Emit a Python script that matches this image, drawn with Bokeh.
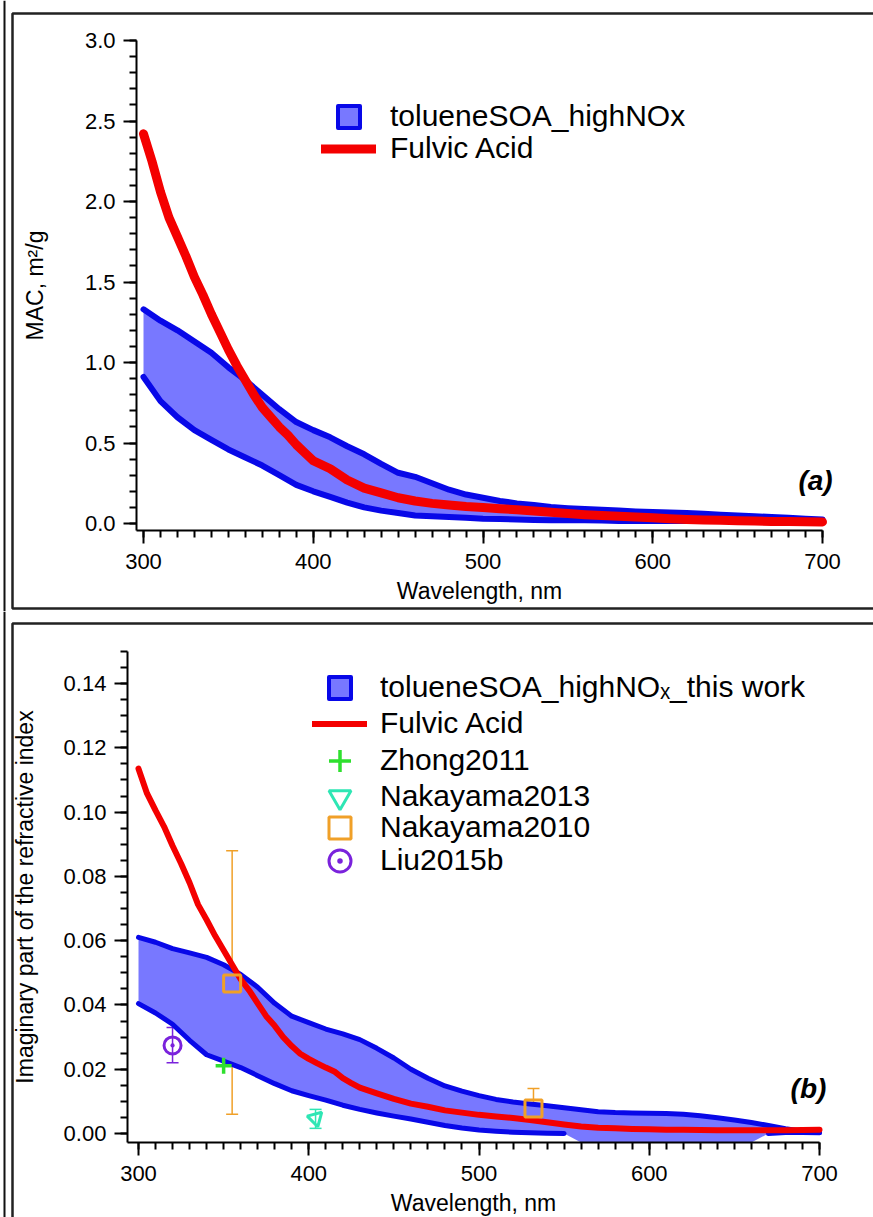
import numpy as np
from bokeh.plotting import figure
from bokeh.models import (ColumnDataSource, FixedTicker, PrintfTickFormatter, Legend,
                          LegendItem, Label, BoxAnnotation, Whisker, TeeHead, Range1d, Span)
from bokeh.layouts import column
from bokeh.embed import file_html
from bokeh.resources import INLINE

FONT = "Liberation Sans"
BLUE = "#0808e8"
FILL = "#7878ff"
RED = "#f40000"
GREEN = "#2ee02e"
TEAL = "#2ee6b4"
ORANGE = "#f0a028"
PURPLE = "#7a22dc"

# ---------------- panel (a): MAC, m2/g
wl_band_a = list(range(300, 701, 10))
mac_upper = [1.33, 1.26, 1.20, 1.13, 1.06, 0.97, 0.89, 0.80, 0.71, 0.63,
             0.58, 0.535, 0.48, 0.43, 0.37, 0.315, 0.29, 0.25, 0.21, 0.18,
             0.16, 0.14, 0.125, 0.115, 0.102, 0.095, 0.09, 0.085, 0.08, 0.075,
             0.072, 0.068, 0.065, 0.06, 0.055, 0.05, 0.045, 0.04, 0.035, 0.03,
             0.025]
mac_lower = [0.91, 0.76, 0.66, 0.58, 0.52, 0.46, 0.41, 0.36, 0.30, 0.24,
             0.20, 0.165, 0.13, 0.10, 0.08, 0.065, 0.05, 0.045, 0.04, 0.035,
             0.03, 0.028, 0.025, 0.022, 0.02, 0.02, 0.02, 0.018, 0.015, 0.015,
             0.015, 0.015, 0.015, 0.015, 0.015, 0.015, 0.015, 0.015, 0.015, 0.015,
             0.015]
wl_fa_a = list(range(300, 400, 5)) + list(range(400, 701, 10))
mac_fa = [2.42, 2.25, 2.06, 1.90, 1.78, 1.66, 1.53, 1.42, 1.30, 1.19,
          1.08, 0.98, 0.89, 0.80, 0.72, 0.66, 0.60, 0.55, 0.49, 0.44,
          0.39, 0.34, 0.27, 0.22, 0.19, 0.16, 0.14, 0.125, 0.115, 0.105,
          0.10, 0.092, 0.085, 0.077, 0.07, 0.062, 0.055, 0.05, 0.045, 0.04,
          0.035, 0.03, 0.025, 0.022, 0.02, 0.017, 0.015, 0.013, 0.012, 0.011,
          0.01]

# ---------------- panel (b): imaginary refractive index
wl_band_b = list(range(300, 701, 10))
k_upper = [0.061, 0.0595, 0.0575, 0.0562, 0.0548, 0.0525, 0.0495, 0.0455, 0.0405, 0.0365,
           0.0345, 0.0325, 0.031, 0.0292, 0.0265, 0.0235, 0.020, 0.0172, 0.0148, 0.0132,
           0.0118, 0.0106, 0.0098, 0.0092, 0.0086, 0.008, 0.0074, 0.0068, 0.0065, 0.0064,
           0.0063, 0.0062, 0.006, 0.0055, 0.0049, 0.0042, 0.0034, 0.0025, 0.0015, 0.0007,
           0.0003]
# NaN: lower bound falls below the axis (not shown) between ~555 and ~665 nm
k_lower = [0.0404, 0.0375, 0.034, 0.029, 0.0245, 0.0225, 0.0205, 0.018, 0.0155, 0.0133,
           0.0118, 0.0104, 0.0088, 0.0075, 0.0064, 0.0054, 0.0045, 0.0035, 0.0025, 0.0017,
           0.0011, 0.0007, 0.0004, 0.0002, 0.0001, 0.0, np.nan, np.nan, np.nan, np.nan,
           np.nan, np.nan, np.nan, np.nan, np.nan, np.nan, np.nan, 0.0, 0.0003, 0.0003,
           0.0002]
wl_fa_b = list(range(300, 431, 5)) + list(range(440, 701, 10))
k_fa = [0.1135, 0.1058, 0.1005, 0.0955, 0.0895, 0.084, 0.078, 0.0712, 0.0665, 0.0615,
        0.057, 0.0525, 0.048, 0.0445, 0.0405, 0.0365, 0.0335, 0.030, 0.0272, 0.0248,
        0.0232, 0.0218, 0.0205, 0.0193, 0.0172, 0.0157, 0.0143,
        0.0125, 0.0108, 0.0093, 0.0083, 0.0072, 0.0065, 0.0058, 0.0053, 0.0048, 0.0042,
        0.0035, 0.0028, 0.0022, 0.0018, 0.0016, 0.0014, 0.0013, 0.0012, 0.0012, 0.0011,
        0.001, 0.001, 0.001, 0.001, 0.001, 0.0011, 0.0012]

zhong_wl = [350]
zhong_k = [0.0211]
nak13_wl = [404]
nak13_k = [0.0047]
nak13_lo = [0.0016]
nak13_hi = [0.0075]
nak10_wl = [355, 532]
nak10_k = [0.0467, 0.0078]
nak10_lo = [0.006, 0.0]
nak10_hi = [0.088, 0.014]
liu_wl = [320]
liu_k = [0.0274]
liu_lo = [0.022]
liu_hi = [0.033]

# ---------------- ticks / axis extents
x_ticks = [300, 400, 500, 600, 700]
x_minor = list(range(300, 701, 10))
ya_ticks = [0.0, 0.5, 1.0, 1.5, 2.0, 2.5, 3.0]
ya_minor = [round(0.1 * i, 1) for i in range(31)]
yb_ticks = [0.0, 0.02, 0.04, 0.06, 0.08, 0.10, 0.12, 0.14]
yb_minor = [round(0.005 * i, 3) for i in range(31)]
XA_AXIS = (295.9, 700.0)
YA_AXIS = (-0.0435, 3.0)
XB_AXIS = (293.5, 700.0)
YB_AXIS = (-0.0028, 0.15)

W = 873
H1 = 611
H2 = 606


def style_axes(p, ylabel, yfmt, yticks, yminor, xb, yb, ylabel_standoff):
    p.grid.visible = False
    p.outline_line_color = None
    p.background_fill_color = "white"
    p.border_fill_color = "white"
    p.xaxis.ticker = FixedTicker(ticks=x_ticks, minor_ticks=x_minor)
    p.yaxis.ticker = FixedTicker(ticks=yticks, minor_ticks=yminor)
    p.yaxis.formatter = PrintfTickFormatter(format=yfmt)
    p.xaxis.axis_label = "Wavelength, nm"
    p.yaxis.axis_label = ylabel
    p.xaxis.fixed_location = yb[0]
    p.xaxis.bounds = xb
    p.yaxis.fixed_location = xb[0]
    p.yaxis.bounds = yb
    for ax in (p.xaxis[0], p.yaxis[0]):
        ax.axis_line_width = 2
        ax.axis_line_color = "black"
        ax.major_tick_line_width = 2
        ax.minor_tick_line_width = 2
        ax.major_tick_line_color = "black"
        ax.minor_tick_line_color = "black"
        ax.major_tick_out = 13
        ax.major_tick_in = 0
        ax.minor_tick_out = 7
        ax.minor_tick_in = 0
        ax.major_label_text_font = FONT
        ax.major_label_text_font_size = "22px"
        ax.major_label_text_color = "black"
        ax.axis_label_text_font = FONT
        ax.axis_label_text_font_size = "23px"
        ax.axis_label_text_font_style = "normal"
        ax.axis_label_text_color = "black"
    p.xaxis.major_label_standoff = 10
    p.xaxis.axis_label_standoff = 6
    p.yaxis.major_label_standoff = 8
    p.yaxis.axis_label_standoff = ylabel_standoff


def frame_lines(p, h, box_top, box_bottom):
    p.add_layout(Span(location=4, location_units="screen", dimension="height",
                      line_color="#111111", line_width=2, line_alpha=1))
    p.add_layout(BoxAnnotation(left=12, right=W + 50, top=h - box_top, bottom=h - box_bottom,
                               left_units="screen", right_units="screen",
                               top_units="screen", bottom_units="screen",
                               fill_alpha=0, line_color="#222222", line_alpha=1,
                               line_width=2.5, level="overlay"))


def add_row_legend(p, h, label, renderer, cy, standoff):
    # one legend row: 55x55 glyph box centred on cy (canvas px)
    leg = Legend(items=[LegendItem(label=label, renderers=[renderer])],
                 location=(standoff[0], h - cy - 27.5), glyph_width=55, glyph_height=55,
                 label_standoff=standoff[1], padding=0, margin=0, border_line_color=None,
                 background_fill_alpha=0, label_text_font=FONT,
                 label_text_font_size="30px", label_text_color="black")
    p.add_layout(leg)


# ================= figure (a)
sxa = (822 - 143) / 400.0
sya = (523 - 40) / 3.0
p1 = figure(width=W, height=H1, output_backend="svg", toolbar_location=None,
            x_range=Range1d(300 - 143 / sxa, 300 + (W - 143) / sxa),
            y_range=Range1d(-(H1 - 523) / sya, 3.0 + 40 / sya),
            min_border=0, min_border_left=0, min_border_right=0,
            min_border_top=0, min_border_bottom=0)
style_axes(p1, "MAC, m\u00b2/g", "%.1f", ya_ticks, ya_minor, XA_AXIS, YA_AXIS, 34)

p1.varea(x=wl_band_a, y1=mac_lower, y2=mac_upper, fill_color=FILL, fill_alpha=1)
p1.line(wl_band_a, mac_upper, line_color=BLUE, line_width=6, line_join="round", line_cap="round")
p1.line(wl_band_a, mac_lower, line_color=BLUE, line_width=6, line_join="round", line_cap="round")
fa_a = p1.line(wl_fa_a, mac_fa, line_color=RED, line_width=9, line_join="round", line_cap="round")
proxy_a = p1.scatter(x=[np.nan], y=[np.nan], marker="square", size=20, fill_color=FILL,
                     line_color=BLUE, line_width=4, line_join="round")

add_row_legend(p1, H1, "tolueneSOA_highNOx", proxy_a, 116, (321, 14))
add_row_legend(p1, H1, "Fulvic Acid", fa_a, 148, (321, 14))
p1.add_layout(Label(x=815, y=H1 - 480, x_units="screen", y_units="screen", text="(a)",
                    text_font=FONT, text_font_size="28px", text_font_style="bold italic",
                    text_align="center", text_baseline="middle", text_color="black"))
frame_lines(p1, H1, 13, 608)

# ================= figure (b)
Y0 = 1217 - H2  # page offset of figure (b)
sxb = (819 - 138) / 400.0
syb = (1133 - 683) / 0.14
p2 = figure(width=W, height=H2, output_backend="svg", toolbar_location=None,
            x_range=Range1d(300 - 138 / sxb, 300 + (W - 138) / sxb),
            y_range=Range1d(-(1217 - 1133) / syb, (1133 - Y0) / syb),
            min_border=0, min_border_left=0, min_border_right=0,
            min_border_top=0, min_border_bottom=0)
style_axes(p2, "Imaginary part of the refractive index", "%.2f", yb_ticks, yb_minor,
           XB_AXIS, YB_AXIS, 23)

k_lower_fill = [YB_AXIS[0] if np.isnan(v) else v for v in k_lower]
p2.varea(x=wl_band_b, y1=k_lower_fill, y2=k_upper, fill_color=FILL, fill_alpha=1)
p2.line(wl_band_b, k_upper, line_color=BLUE, line_width=5, line_join="round", line_cap="round")
p2.line(wl_band_b, k_lower, line_color=BLUE, line_width=5, line_join="round", line_cap="round")
fa_b = p2.line(wl_fa_b, k_fa, line_color=RED, line_width=6, line_join="round", line_cap="round")
proxy_b = p2.scatter(x=[np.nan], y=[np.nan], marker="square", size=20, fill_color=FILL,
                     line_color=BLUE, line_width=4, line_join="round")

src_n10 = ColumnDataSource(dict(x=nak10_wl, y=nak10_k, lo=nak10_lo, hi=nak10_hi))
src_n13 = ColumnDataSource(dict(x=nak13_wl, y=nak13_k, lo=nak13_lo, hi=nak13_hi))
src_liu = ColumnDataSource(dict(x=liu_wl, y=liu_k, lo=liu_lo, hi=liu_hi))


def whisk(src, color):
    return Whisker(source=src, base="x", upper="hi", lower="lo", dimension="height",
                   line_color=color, line_width=1.5,
                   upper_head=TeeHead(size=12, line_color=color, line_width=1.5),
                   lower_head=TeeHead(size=12, line_color=color, line_width=1.5))


p2.add_layout(whisk(src_n10, ORANGE))
p2.add_layout(whisk(src_n13, TEAL))
p2.add_layout(whisk(src_liu, PURPLE))

r_zhong = p2.scatter(zhong_wl, zhong_k, marker="cross", size=16, line_color=GREEN, line_width=3.5)
r_n13 = p2.scatter("x", "y", source=src_n13, marker="inverted_triangle", angle=0.26, size=15,
                   fill_color=None, line_color=TEAL, line_width=3)
r_n10 = p2.scatter("x", "y", source=src_n10, marker="square", size=17,
                   fill_color=None, line_color=ORANGE, line_width=3)
r_liu = p2.scatter("x", "y", source=src_liu, marker="circle_dot", size=17,
                   fill_color=None, line_color=PURPLE, line_width=3)

rows_b = [("tolueneSOA_highNO\u2093_this work", proxy_b, 687),
          ("Fulvic Acid", fa_b, 723),
          ("Zhong2011", r_zhong, 760),
          ("Nakayama2013", r_n13, 796),
          ("Nakayama2010", r_n10, 827),
          ("Liu2015b", r_liu, 860)]
for lab, rend, cy in rows_b:
    add_row_legend(p2, H2, lab, rend, cy - Y0, (312, 13))

p2.add_layout(Label(x=808, y=H2 - (1088 - Y0), x_units="screen", y_units="screen", text="(b)",
                    text_font=FONT, text_font_size="28px", text_font_style="bold italic",
                    text_align="center", text_baseline="middle", text_color="black"))
frame_lines(p2, H2, 623 - Y0, 2000)

layout = column(p1, p2, spacing=0)
open("out.html", "w").write(file_html(layout, INLINE))
